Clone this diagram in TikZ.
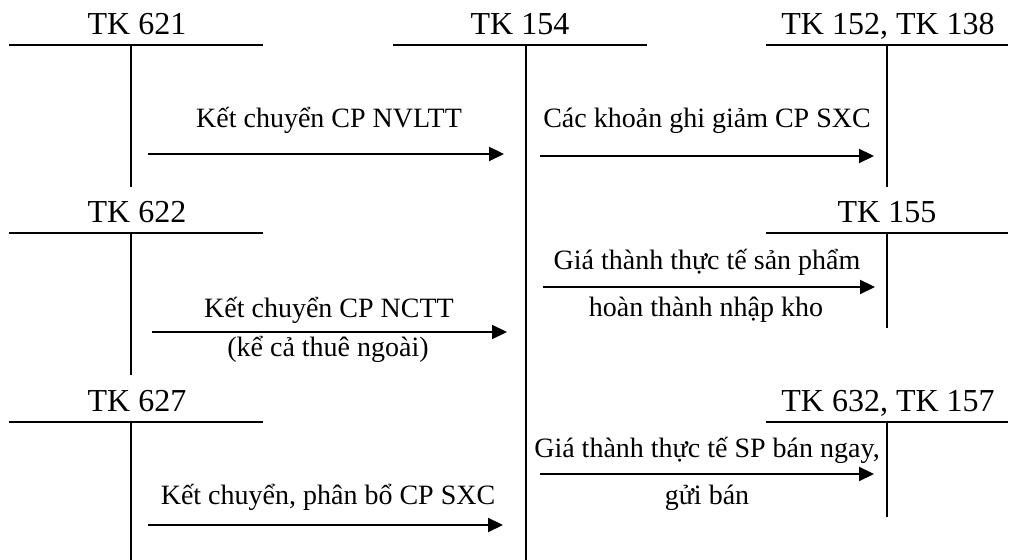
\documentclass[tikz,border=0pt]{standalone}
\usepackage{fontspec}
\setmainfont{Liberation Serif}
\usetikzlibrary{arrows.meta}
\begin{document}
\begin{tikzpicture}[x=0.5pt,y=-0.5pt,
  acct/.style={inner sep=0pt, anchor=base, font=\fontsize{16}{18}\selectfont},
  lbl/.style={inner sep=0pt, anchor=base, font=\fontsize{14}{16}\selectfont},
  tline/.style={line width=1.1pt},
  flow/.style={line width=1.1pt, -{Triangle[length=7.5pt,width=7pt]}}]
\useasboundingbox[fill=white] (0,0) rectangle (1013,560);

% ---- T-account labels
\node[acct] (t621) at (137,35) {TK 621};
\node[acct] (t154) at (520,35) {TK 154};
\node[acct] (t152) at (888,35) {TK 152, TK 138};
\node[acct] (t622) at (137,223) {TK 622};
\node[acct] (t155) at (887,223) {TK 155};
\node[acct] (t627) at (137,412) {TK 627};
\node[acct] (t632) at (888,412) {TK 632, TK 157};

% ---- T-account lines
\coordinate (a621L) at (9,45);   \coordinate (a621R) at (263,45);
\coordinate (a621T) at (131,45); \coordinate (a621B) at (131,187);
\coordinate (a154L) at (393,45); \coordinate (a154R) at (647,45);
\coordinate (a154T) at (526,45); \coordinate (a154B) at (526,560);
\coordinate (a152L) at (766,45); \coordinate (a152R) at (1008,45);
\coordinate (a152T) at (887,45); \coordinate (a152B) at (887,187);
\coordinate (a622L) at (9,233);   \coordinate (a622R) at (263,233);
\coordinate (a622T) at (131,233); \coordinate (a622B) at (131,375);
\coordinate (a155L) at (766,233); \coordinate (a155R) at (1008,233);
\coordinate (a155T) at (887,233); \coordinate (a155B) at (887,328);
\coordinate (a627L) at (9,422);   \coordinate (a627R) at (263,422);
\coordinate (a627T) at (131,422); \coordinate (a627B) at (131,560);
\coordinate (a632L) at (766,422); \coordinate (a632R) at (1008,422);
\coordinate (a632T) at (887,422); \coordinate (a632B) at (887,517);

\foreach \a in {621,154,152,622,155,627,632}{
  \draw[tline] (a\a L) -- (a\a R);
  \draw[tline] (a\a T) -- (a\a B);
}

% ---- flows
\coordinate (f1s) at (148,154); \coordinate (f1e) at (504,154);
\coordinate (f2s) at (152,332); \coordinate (f2e) at (507,332);
\coordinate (f3s) at (148,525); \coordinate (f3e) at (503,525);
\coordinate (f4s) at (540,156); \coordinate (f4e) at (874,156);
\coordinate (f5s) at (543,287); \coordinate (f5e) at (875,287);
\coordinate (f6s) at (540,474); \coordinate (f6e) at (874,474);

\draw[flow] (f1s) -- (f1e);
\draw[flow] (f2s) -- (f2e);
\draw[flow] (f3s) -- (f3e);
\draw[flow] (f4s) -- (f4e);
\draw[flow] (f5s) -- (f5e);
\draw[flow] (f6s) -- (f6e);

% ---- flow labels
\node[lbl] (l1) at (329,128) {Kết chuyển CP NVLTT};
\node[lbl] (l2a) at (329,318) {Kết chuyển CP NCTT};
\node[lbl] (l2b) at (328,357) {(kể cả thuê ngoài)};
\node[lbl] (l3) at (328,505) {Kết chuyển, phân bổ CP SXC};
\node[lbl] (l4) at (707,128) {Các khoản ghi giảm CP SXC};
\node[lbl] (l5a) at (707,270) {Giá thành thực tế sản phẩm};
\node[lbl] (l5b) at (706,317) {hoàn thành nhập kho};
\node[lbl] (l6a) at (707,458) {Giá thành thực tế SP bán ngay,};
\node[lbl] (l6b) at (707,505) {gửi bán};
\end{tikzpicture}
\end{document}
